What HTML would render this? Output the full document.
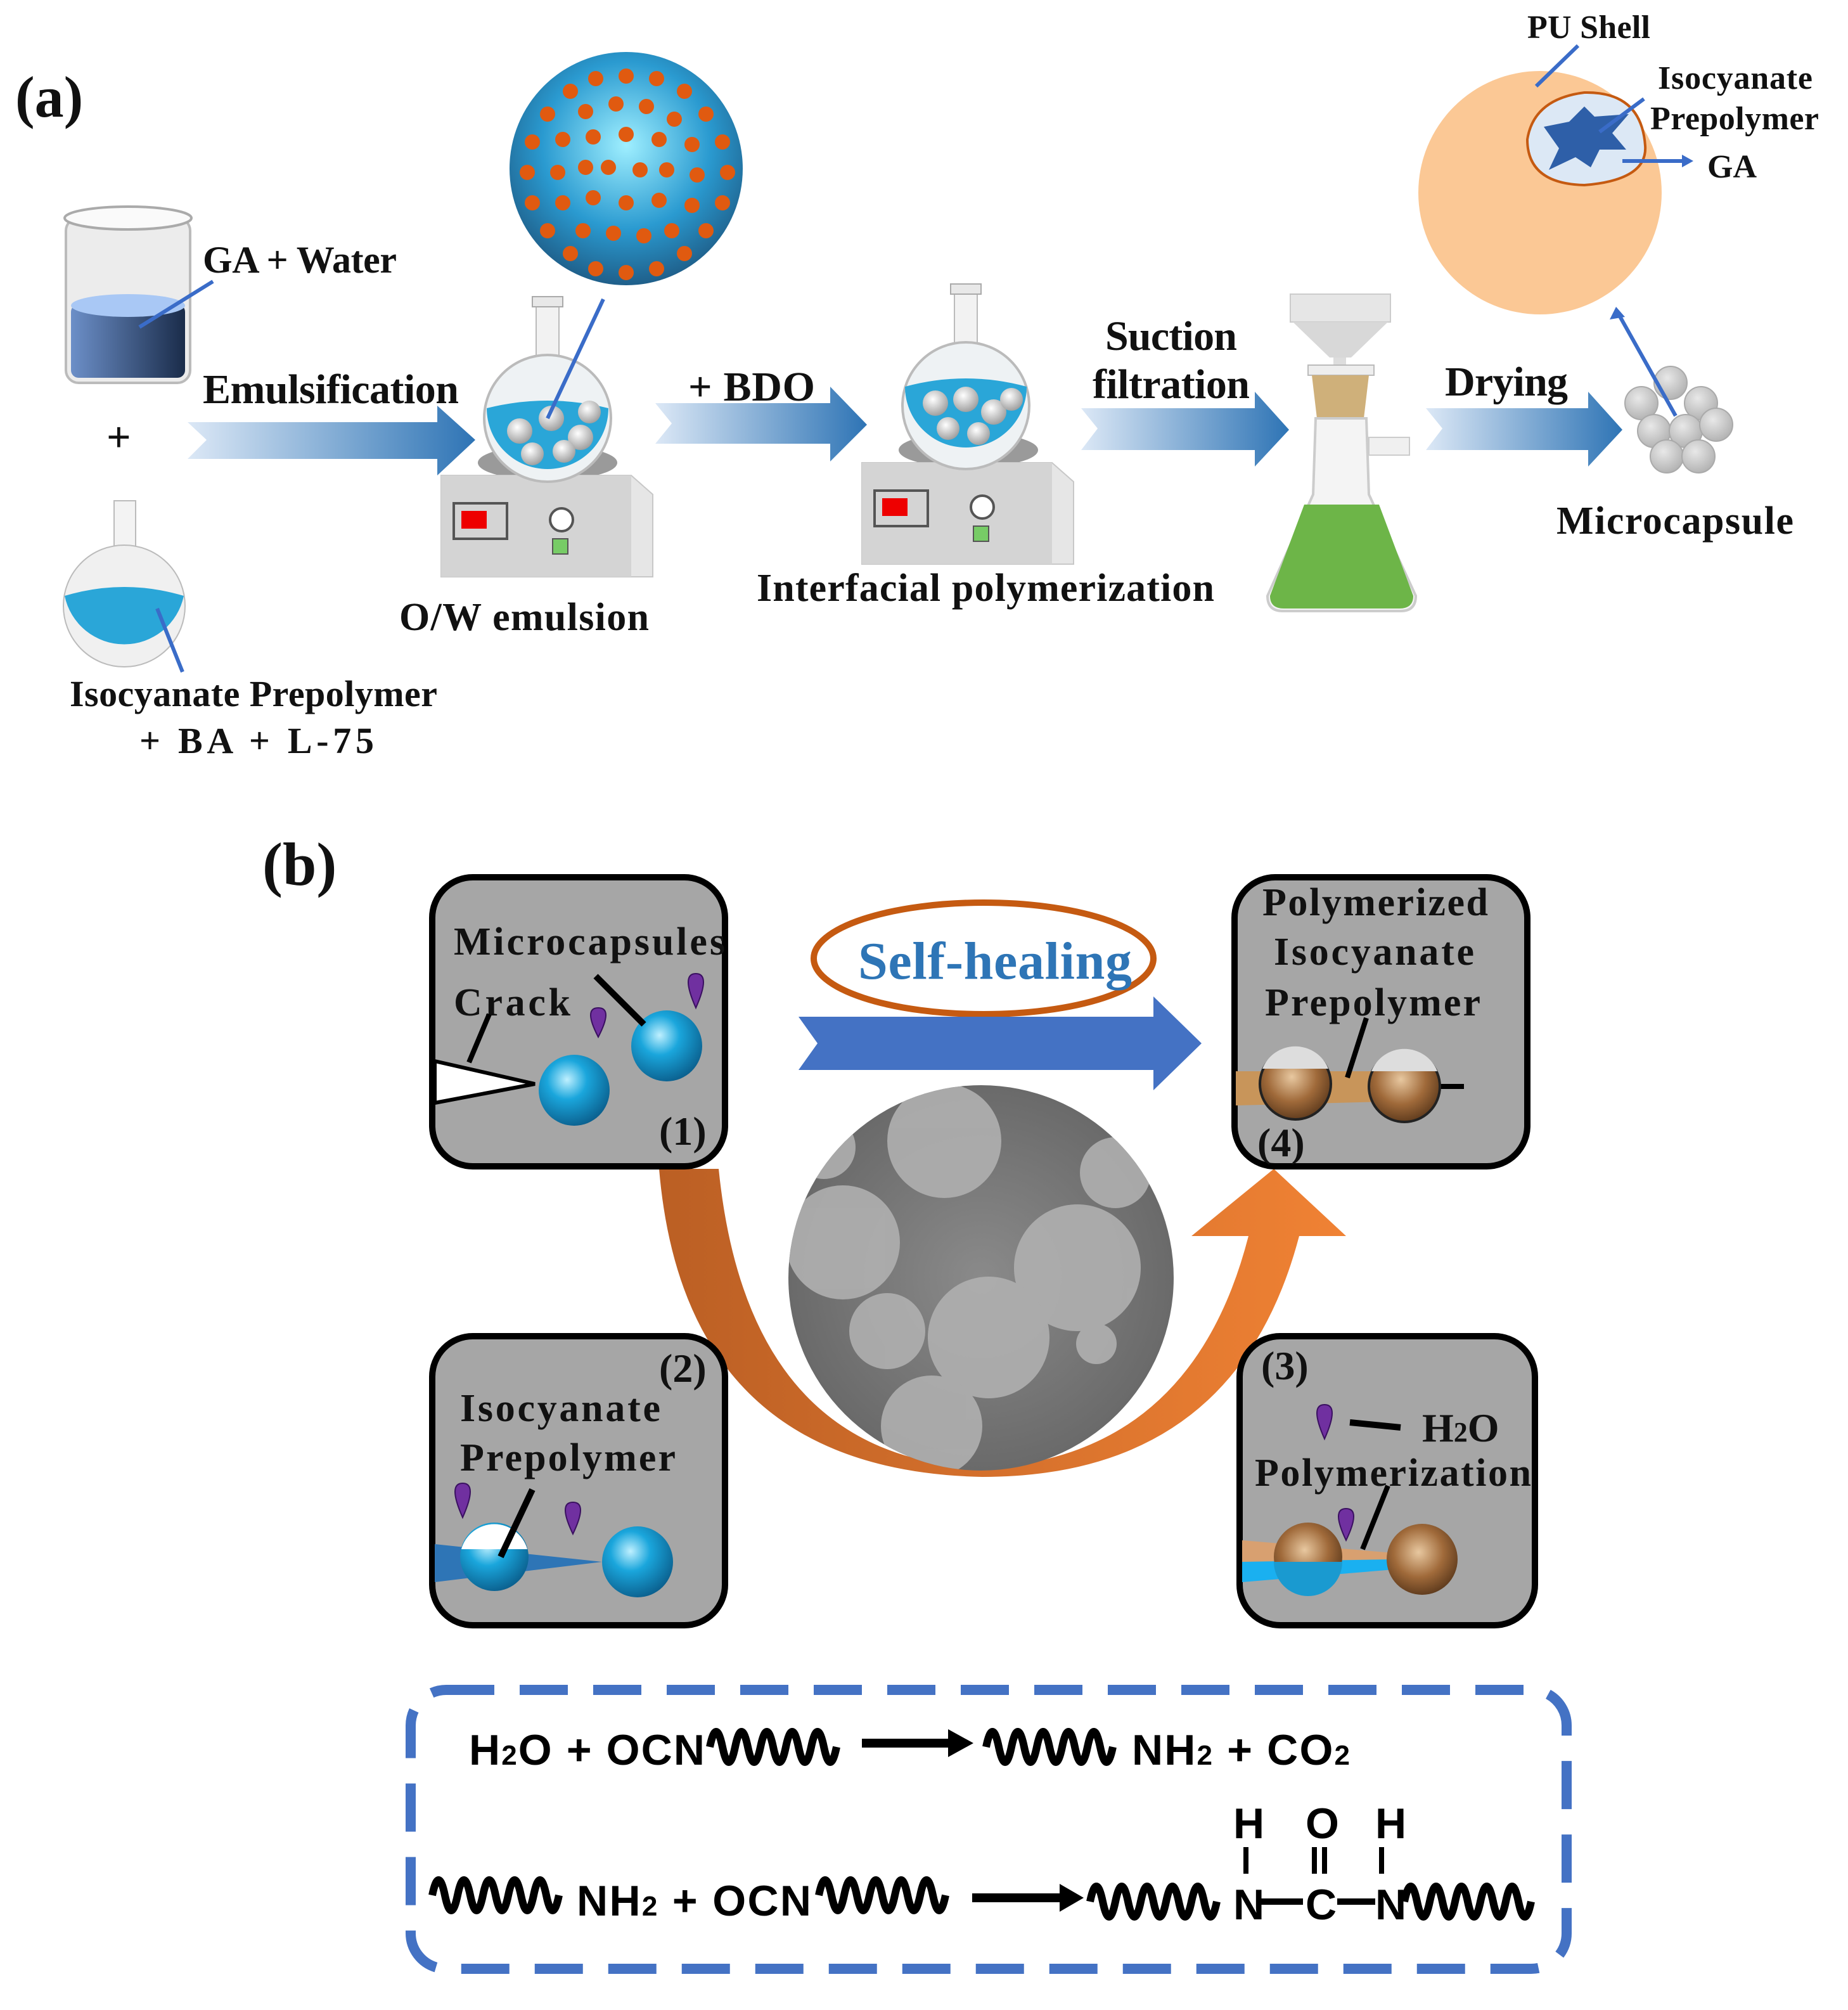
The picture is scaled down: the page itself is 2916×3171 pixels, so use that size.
<!DOCTYPE html>
<html><head><meta charset="utf-8"><style>
html,body{margin:0;padding:0;background:#fff;}
svg{display:block;}
.t{font-family:"Liberation Serif",serif;font-weight:bold;fill:#111;}
.s{font-family:"Liberation Sans",sans-serif;font-weight:bold;fill:#000;}
</style></head><body>
<svg width="2916" height="3171" viewBox="0 0 1458 1585.5" xmlns="http://www.w3.org/2000/svg">
<defs>
<linearGradient id="ar" x1="0" x2="1" y1="0" y2="0"><stop offset="0" stop-color="#dce8f6"/><stop offset="1" stop-color="#2e74b5"/></linearGradient>
<radialGradient id="bl" cx="0.4" cy="0.35" r="0.7"><stop offset="0" stop-color="#bff0ff"/><stop offset="0.4" stop-color="#1aa6dc"/><stop offset="1" stop-color="#0a5c8a"/></radialGradient>
<radialGradient id="br" cx="0.45" cy="0.4" r="0.7"><stop offset="0" stop-color="#e8c8a0"/><stop offset="0.5" stop-color="#a06a3a"/><stop offset="1" stop-color="#4a2c14"/></radialGradient>
<radialGradient id="wb" cx="0.4" cy="0.35" r="0.7"><stop offset="0" stop-color="#fff"/><stop offset="1" stop-color="#9a9a9a"/></radialGradient>
<radialGradient id="sp" cx="0.5" cy="0.4" r="0.6"><stop offset="0" stop-color="#9fefff"/><stop offset="0.6" stop-color="#2a9ad0"/><stop offset="1" stop-color="#1f5f8a"/></radialGradient>
<radialGradient id="sem" cx="0.5" cy="0.5" r="0.5"><stop offset="0" stop-color="#8a8a8a"/><stop offset="1" stop-color="#6a6a6a"/></radialGradient>
<radialGradient id="ball" cx="0.4" cy="0.35" r="0.7"><stop offset="0" stop-color="#e8e8e8"/><stop offset="1" stop-color="#b0b0b0"/></radialGradient>
<linearGradient id="org" x1="0" x2="1"><stop offset="0" stop-color="#bb5f24"/><stop offset="1" stop-color="#f08234"/></linearGradient>
<linearGradient id="liq" x1="0" x2="1"><stop offset="0" stop-color="#6c8fc8"/><stop offset="1" stop-color="#1a2c4a"/></linearGradient>
<clipPath id="semclip"><circle cx="774" cy="1008" r="152"/></clipPath>
<path id="w" d="M0 0 q5 -24 10 0 t10 0 t10 0 t10 0 t10 0 t10 0 t10 0 t10 0 t10 0 t10 0" fill="none" stroke="#000" stroke-width="6"/>
<g id="flask">
<rect x="-9" y="-92" width="18" height="45" fill="#f2f2f2" stroke="#bbb"/>
<rect x="-12" y="-96" width="24" height="8" fill="#e8e8e8" stroke="#aaa"/>
<circle r="50" fill="#eef2f4" stroke="#bbb" stroke-width="2"/>
</g>
<g id="stirbase">
<ellipse cx="84" cy="10" rx="55" ry="14" fill="#9a9a9a"/>
<path d="M0 20 L150 20 L167 35 L167 100 L150 100 L0 100 Z" fill="#e6e6e6" stroke="#c8c8c8"/>
<rect x="0" y="20" width="150" height="80" fill="#d4d4d4"/>
<rect x="10" y="42" width="42" height="28" fill="none" stroke="#555" stroke-width="2"/>
<rect x="16" y="48" width="20" height="14" fill="#e00"/>
<circle cx="95" cy="55" r="9" fill="#fff" stroke="#555" stroke-width="2"/>
<rect x="88" y="70" width="12" height="12" fill="#7c6" stroke="#555"/>
</g>
</defs>

<!-- (a) -->
<text class="t" x="12" y="92" font-size="46">(a)</text>
<rect x="52" y="172" width="98" height="130" rx="10" fill="#ececec" stroke="#bbb" stroke-width="2"/>
<ellipse cx="101" cy="172" rx="50" ry="9" fill="#fafafa" stroke="#aaa" stroke-width="2"/>
<rect x="56" y="240" width="90" height="58" rx="6" fill="url(#liq)"/>
<ellipse cx="101" cy="241" rx="45" ry="9" fill="#a9c8f5"/>
<line x1="110" y1="258" x2="168" y2="222" stroke="#3a6cc8" stroke-width="3"/>
<text class="t" x="160" y="215" font-size="30" textLength="153">GA + Water</text>
<text class="t" x="84" y="356" font-size="34">+</text>
<rect x="90" y="395" width="17" height="40" fill="#f3f3f3" stroke="#bbb"/>
<circle cx="98" cy="478" r="48" fill="#f0f0f0" stroke="#bbb"/>
<path d="M51 470 A48 48 0 0 0 145 470 Q98 456 51 470Z" fill="#2aa6d8"/>
<line x1="124" y1="480" x2="144" y2="530" stroke="#3a6cc8" stroke-width="3"/>
<text class="t" x="55" y="557" font-size="29" textLength="290">Isocyanate Prepolymer</text>
<text class="t" x="110" y="594" font-size="29" textLength="185">+  BA   +  L-75</text>
<path d="M148 333 L345 333 L345 320 L375 347 L345 375 L345 362 L148 362 L163 347Z" fill="url(#ar)"/>
<text class="t" x="160" y="318" font-size="33" textLength="202">Emulsification</text>
<path d="M517 318 L655 318 L655 305 L684 335 L655 364 L655 350 L517 350 L530 334Z" fill="url(#ar)"/>
<text class="t" x="543" y="316" font-size="33" textLength="100">+ BDO</text>
<path d="M853 322 L990 322 L990 309 L1017 339 L990 368 L990 355 L853 355 L866 338Z" fill="url(#ar)"/>
<text class="t" x="872" y="276" font-size="33" textLength="104">Suction</text>
<text class="t" x="862" y="314" font-size="33" textLength="124">filtration</text>
<path d="M1125 322 L1253 322 L1253 309 L1280 339 L1253 368 L1253 355 L1125 355 L1138 338Z" fill="url(#ar)"/>
<text class="t" x="1140" y="312" font-size="33" textLength="97">Drying</text>
<use href="#stirbase" x="348" y="355"/>
<use href="#flask" x="432" y="330"/>
<path d="M384 322 A48 48 0 0 0 480 322 Q432 310 384 322Z" fill="#2aa6d8"/>
<g fill="url(#wb)"><circle cx="410" cy="340" r="10"/><circle cx="435" cy="330" r="10"/><circle cx="458" cy="345" r="10"/><circle cx="420" cy="358" r="9"/><circle cx="445" cy="356" r="9"/><circle cx="465" cy="325" r="9"/></g>
<line x1="432" y1="330" x2="476" y2="236" stroke="#3a6cc8" stroke-width="3"/>
<text class="t" x="315" y="497" font-size="31" textLength="197">O/W emulsion</text>
<circle cx="494" cy="133" r="92" fill="url(#sp)"/>
<g fill="#e05a10">
<circle cx="494" cy="60" r="6"/><circle cx="470" cy="62" r="6"/><circle cx="518" cy="62" r="6"/><circle cx="450" cy="72" r="6"/><circle cx="540" cy="72" r="6"/><circle cx="432" cy="90" r="6"/><circle cx="557" cy="90" r="6"/><circle cx="420" cy="112" r="6"/><circle cx="570" cy="112" r="6"/><circle cx="416" cy="136" r="6"/><circle cx="574" cy="136" r="6"/><circle cx="420" cy="160" r="6"/><circle cx="570" cy="160" r="6"/><circle cx="432" cy="182" r="6"/><circle cx="557" cy="182" r="6"/><circle cx="450" cy="200" r="6"/><circle cx="540" cy="200" r="6"/><circle cx="470" cy="212" r="6"/><circle cx="518" cy="212" r="6"/><circle cx="494" cy="215" r="6"/>
<circle cx="462" cy="88" r="6"/><circle cx="486" cy="82" r="6"/><circle cx="510" cy="84" r="6"/><circle cx="532" cy="94" r="6"/><circle cx="444" cy="110" r="6"/><circle cx="468" cy="108" r="6"/><circle cx="520" cy="110" r="6"/><circle cx="546" cy="114" r="6"/><circle cx="440" cy="136" r="6"/><circle cx="462" cy="132" r="6"/><circle cx="526" cy="134" r="6"/><circle cx="550" cy="138" r="6"/><circle cx="444" cy="160" r="6"/><circle cx="468" cy="156" r="6"/><circle cx="494" cy="160" r="6"/><circle cx="520" cy="158" r="6"/><circle cx="546" cy="162" r="6"/><circle cx="460" cy="182" r="6"/><circle cx="484" cy="184" r="6"/><circle cx="508" cy="186" r="6"/><circle cx="530" cy="182" r="6"/><circle cx="494" cy="106" r="6"/><circle cx="480" cy="132" r="6"/><circle cx="505" cy="134" r="6"/>
</g>
<use href="#stirbase" x="680" y="345"/>
<use href="#flask" x="762" y="320"/>
<path d="M714 305 A48 48 0 0 0 810 305 Q762 292 714 305Z" fill="#2aa6d8"/>
<g fill="url(#wb)"><circle cx="738" cy="318" r="10"/><circle cx="762" cy="315" r="10"/><circle cx="784" cy="325" r="10"/><circle cx="748" cy="338" r="9"/><circle cx="772" cy="342" r="9"/><circle cx="798" cy="315" r="9"/></g>
<text class="t" x="597" y="474" font-size="31" textLength="361">Interfacial polymerization</text>
<rect x="1018" y="232" width="79" height="22" fill="#e6e6e6" stroke="#ccc"/>
<path d="M1020 254 L1095 254 L1066 282 L1049 282Z" fill="#d8d8d8"/>
<rect x="1052" y="282" width="10" height="10" fill="#ddd"/>
<rect x="1032" y="288" width="52" height="8" fill="#eee" stroke="#bbb"/>
<path d="M1035 296 L1080 296 L1076 330 L1039 330Z" fill="#cfb07a"/>
<path d="M1038 330 L1078 330 L1080 390 L1117 470 Q1117 482 1105 482 L1012 482 Q1000 482 1000 470 L1036 390Z" fill="#f4f4f4" stroke="#ccc" stroke-width="2"/>
<path d="M1029 398 L1088 398 L1115 470 Q1115 480 1104 480 L1013 480 Q1002 480 1002 470Z" fill="#6db548"/>
<rect x="1080" y="345" width="32" height="14" fill="#f0f0f0" stroke="#ccc"/>
<g fill="url(#ball)" stroke="#aaa" stroke-width="1">
<circle cx="1295" cy="318" r="13"/><circle cx="1318" cy="302" r="13"/><circle cx="1342" cy="318" r="13"/><circle cx="1305" cy="340" r="13"/><circle cx="1330" cy="340" r="13"/><circle cx="1354" cy="335" r="13"/><circle cx="1315" cy="360" r="13"/><circle cx="1340" cy="360" r="13"/>
</g>
<line x1="1322" y1="328" x2="1276" y2="246" stroke="#3a6cc8" stroke-width="3"/>
<path d="M1270 252 L1275 242 L1282 250Z" fill="#3a6cc8"/>
<text class="t" x="1228" y="421" font-size="31" textLength="187">Microcapsule</text>
<circle cx="1215" cy="152" r="96" fill="#fbc895"/>
<path d="M1205 110 Q1210 78 1250 73 Q1295 72 1298 115 Q1300 142 1250 146 Q1205 145 1205 110Z" fill="#dce8f5" stroke="#c55a11" stroke-width="2"/>
<path d="M1218 100 L1238 96 L1250 84 L1258 92 L1285 90 L1272 105 L1283 118 L1262 118 L1255 132 L1243 124 L1222 134 L1230 117Z" fill="#2e5fa8"/>
<line x1="1212" y1="68" x2="1245" y2="36" stroke="#3a6cc8" stroke-width="3"/>
<line x1="1262" y1="104" x2="1297" y2="78" stroke="#3a6cc8" stroke-width="3"/>
<path d="M1280 127 L1333 127" stroke="#3a6cc8" stroke-width="3"/><path d="M1327 122 L1336 127 L1327 132Z" fill="#3a6cc8"/>
<text class="t" x="1205" y="30" font-size="26" textLength="97">PU Shell</text>
<text class="t" x="1308" y="70" font-size="26" textLength="122">Isocyanate</text>
<text class="t" x="1302" y="102" font-size="26" textLength="133">Prepolymer</text>
<text class="t" x="1347" y="140" font-size="26">GA</text>

<!-- (b) -->
<text class="t" x="207" y="698" font-size="48">(b)</text>
<path d="M520 922 L567 922 Q590 1150 775 1158 Q940 1150 985 975 L940 975 L1005 922 L1062 975 L1025 975 Q975 1165 775 1165 Q540 1160 520 922Z" fill="url(#org)"/>
<circle cx="774" cy="1008" r="152" fill="url(#sem)"/>
<g fill="#b0b0b0" opacity="0.9" clip-path="url(#semclip)">
<circle cx="745" cy="900" r="45"/><circle cx="665" cy="980" r="45"/><circle cx="850" cy="1000" r="50"/><circle cx="700" cy="1050" r="30"/><circle cx="780" cy="1055" r="48"/><circle cx="735" cy="1125" r="40"/><circle cx="865" cy="1060" r="16"/><circle cx="880" cy="925" r="28"/><circle cx="650" cy="905" r="25"/>
</g>
<ellipse cx="776" cy="756" rx="134" ry="44" fill="none" stroke="#c55a11" stroke-width="5"/>
<text x="785" y="772" font-size="42" text-anchor="middle" class="t" style="fill:#2e75b6" textLength="216">Self-healing</text>
<path d="M630 802 L910 802 L910 786 L948 823 L910 860 L910 844 L630 844 L645 823Z" fill="#4472c4"/>
<g fill="#a6a6a6" stroke="#000" stroke-width="5">
<rect x="341" y="692" width="231" height="228" rx="32"/>
<rect x="974" y="692" width="231" height="228" rx="32"/>
<rect x="341" y="1054" width="231" height="228" rx="32"/>
<rect x="978" y="1054" width="233" height="228" rx="32"/>
</g>
<text class="t" x="358" y="753" font-size="31" textLength="214">Microcapsules</text>
<text class="t" x="358" y="801" font-size="31" textLength="92">Crack</text>
<polygon points="343,837 422,855 343,870" fill="#fff" stroke="#000" stroke-width="3"/>
<line x1="370" y1="838" x2="386" y2="800" stroke="#000" stroke-width="4"/>
<circle cx="453" cy="860" r="28" fill="url(#bl)"/>
<circle cx="526" cy="825" r="28" fill="url(#bl)"/>
<line x1="470" y1="770" x2="508" y2="808" stroke="#000" stroke-width="5"/>
<path d="M472 818 Q460 795 472 795 Q484 795 472 818Z" fill="#7030a0" stroke="#3a1060"/>
<path d="M549 795 Q537 768 549 768 Q561 768 549 795Z" fill="#7030a0" stroke="#3a1060"/>
<text class="t" x="520" y="903" font-size="32">(1)</text>
<text class="t" x="996" y="722" font-size="31" textLength="178">Polymerized</text>
<text class="t" x="1005" y="761" font-size="31" textLength="158">Isocyanate</text>
<text class="t" x="998" y="801" font-size="31" textLength="170">Prepolymer</text>
<polygon points="975,845 1130,845 1130,868 975,872" fill="#c8955a"/>
<line x1="1130" y1="857" x2="1155" y2="857" stroke="#000" stroke-width="4"/>
<circle cx="1022" cy="855" r="28" fill="url(#br)" stroke="#222" stroke-width="2"/>
<path d="M996 843 A28 28 0 0 1 1048 843Z" fill="#ddd"/>
<circle cx="1108" cy="857" r="28" fill="url(#br)" stroke="#222" stroke-width="2"/>
<path d="M1082 845 A28 28 0 0 1 1134 845Z" fill="#ddd"/>
<line x1="1078" y1="803" x2="1063" y2="850" stroke="#000" stroke-width="4"/>
<text class="t" x="992" y="912" font-size="32">(4)</text>
<text class="t" x="520" y="1090" font-size="32">(2)</text>
<text class="t" x="363" y="1121" font-size="31" textLength="158">Isocyanate</text>
<text class="t" x="363" y="1160" font-size="31" textLength="170">Prepolymer</text>
<polygon points="343,1218 475,1232 343,1248" fill="#2e75b6"/>
<circle cx="390" cy="1228" r="27" fill="url(#bl)"/>
<path d="M364 1222 A27 27 0 0 1 416 1222Z" fill="#fff"/>
<circle cx="503" cy="1232" r="28" fill="url(#bl)"/>
<line x1="420" y1="1175" x2="395" y2="1228" stroke="#000" stroke-width="5"/>
<path d="M365 1197 Q353 1170 365 1170 Q377 1170 365 1197Z" fill="#7030a0" stroke="#3a1060"/>
<path d="M452 1210 Q440 1185 452 1185 Q464 1185 452 1210Z" fill="#7030a0" stroke="#3a1060"/>
<text class="t" x="995" y="1088" font-size="32">(3)</text>
<path d="M1045 1135 Q1033 1108 1045 1108 Q1057 1108 1045 1135Z" fill="#7030a0" stroke="#3a1060"/>
<line x1="1065" y1="1122" x2="1105" y2="1126" stroke="#000" stroke-width="5"/>
<text class="t" x="1122" y="1137" font-size="32">H<tspan font-size="22">2</tspan>O</text>
<text class="t" x="990" y="1172" font-size="31" textLength="218">Polymerization</text>
<polygon points="980,1215 1100,1225 1100,1235 980,1245" fill="#d8a070"/>
<polygon points="980,1232 1100,1230 1100,1238 980,1248" fill="#1ab0f0"/>
<circle cx="1032" cy="1228" r="27" fill="url(#br)"/>
<path d="M1005 1232 A27 27 0 0 0 1059 1232Z" fill="#1a9ad0"/>
<circle cx="1122" cy="1230" r="28" fill="url(#br)"/>
<line x1="1095" y1="1172" x2="1075" y2="1222" stroke="#000" stroke-width="4"/>
<path d="M1062 1215 Q1050 1190 1062 1190 Q1074 1190 1062 1215Z" fill="#7030a0" stroke="#3a1060"/>
<rect x="324" y="1333" width="912" height="220" rx="28" fill="none" stroke="#4472c4" stroke-width="8" stroke-dasharray="38 20"/>
<text class="s" x="370" y="1392" font-size="34" textLength="186">H<tspan font-size="22">2</tspan>O + OCN</text>
<use href="#w" x="560" y="1378"/>
<line x1="680" y1="1375" x2="750" y2="1375" stroke="#000" stroke-width="7"/><path d="M748 1364 L768 1375 L748 1386Z"/>
<use href="#w" x="778" y="1378"/>
<text class="s" x="893" y="1392" font-size="34" textLength="172">NH<tspan font-size="22">2</tspan> + CO<tspan font-size="22">2</tspan></text>
<use href="#w" x="341" y="1495"/>
<text class="s" x="455" y="1511" font-size="34" textLength="185">NH<tspan font-size="22">2</tspan> + OCN</text>
<use href="#w" x="646" y="1495"/>
<line x1="767" y1="1497" x2="838" y2="1497" stroke="#000" stroke-width="7"/><path d="M836 1486 L855 1497 L836 1508Z"/>
<use href="#w" x="860" y="1500"/>
<text class="s" x="973" y="1514" font-size="34">N</text>
<line x1="995" y1="1500" x2="1028" y2="1500" stroke="#000" stroke-width="5"/>
<text class="s" x="1030" y="1514" font-size="34">C</text>
<line x1="1055" y1="1500" x2="1085" y2="1500" stroke="#000" stroke-width="5"/>
<text class="s" x="1085" y="1514" font-size="34">N</text>
<use href="#w" x="1108" y="1500"/>
<text class="s" x="973" y="1450" font-size="34">H</text>
<text class="s" x="1030" y="1450" font-size="34">O</text>
<text class="s" x="1085" y="1450" font-size="34">H</text>
<line x1="983" y1="1457" x2="983" y2="1478" stroke="#000" stroke-width="4"/>
<line x1="1037" y1="1457" x2="1037" y2="1478" stroke="#000" stroke-width="4"/>
<line x1="1045" y1="1457" x2="1045" y2="1478" stroke="#000" stroke-width="4"/>
<line x1="1090" y1="1457" x2="1090" y2="1478" stroke="#000" stroke-width="4"/>
</svg>
</body></html>
